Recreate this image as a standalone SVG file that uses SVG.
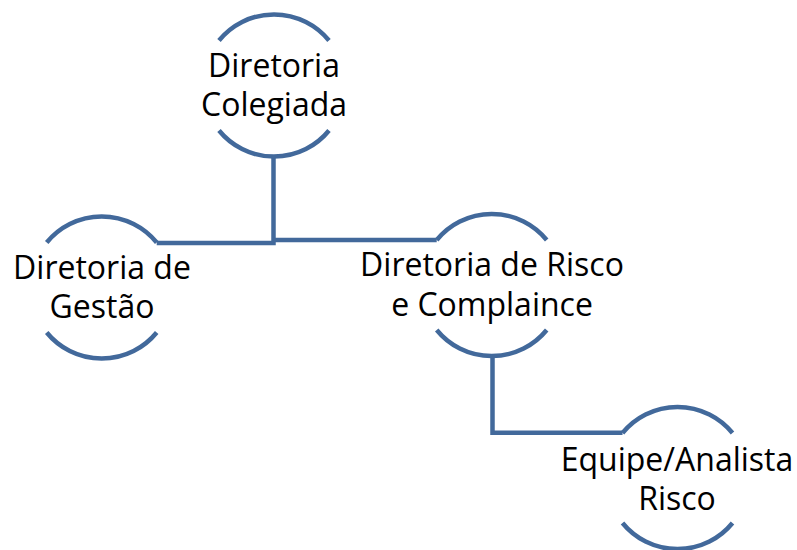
<svg xmlns="http://www.w3.org/2000/svg" width="797" height="550" viewBox="0 0 797 550">
<style>
.arc{fill:none;stroke:#42699B;stroke-width:4.5}
.con{fill:none;stroke:#42699B;stroke-width:4.5}
text{font-family:"Open Sans",Lato,sans-serif;font-size:32px;fill:#000;text-anchor:middle}
</style>
<rect width="797" height="550" fill="#fff"/>
<g id="connectors">
<path class="con" d="M273.5,156.5 V243 H156.7"/>
<path class="con" d="M273.5,240 H436.7"/>
<path class="con" d="M492.5,356 V432.7 H622.5"/>
</g>
<g id="node-colegiada">
<path class="arc" d="M219,40.5 A71,71 0 0 1 329,40.5"/>
<path class="arc" d="M219,130.5 A71,71 0 0 0 329,130.5"/>
<text x="274" y="77">Diretoria</text>
<text x="274" y="116">Colegiada</text>
</g>
<g id="node-gestao">
<path class="arc" d="M46.7,242.5 A71,71 0 0 1 156.7,242.5"/>
<path class="arc" d="M46.7,332.5 A71,71 0 0 0 156.7,332.5"/>
<text x="102" y="279">Diretoria de</text>
<text x="102" y="318">Gestão</text>
</g>
<g id="node-risco">
<path class="arc" d="M436.7,240 A71,71 0 0 1 546.7,240"/>
<path class="arc" d="M436.7,330 A71,71 0 0 0 546.7,330"/>
<text x="492" y="276">Diretoria de Risco</text>
<text x="492" y="316">e Complaince</text>
</g>
<g id="node-equipe">
<path class="arc" d="M622.5,433 A71,71 0 0 1 732.5,433"/>
<path class="arc" d="M622.5,523 A71,71 0 0 0 732.5,523"/>
<text x="677" y="471">Equipe/Analista</text>
<text x="677" y="510">Risco</text>
</g>
</svg>
